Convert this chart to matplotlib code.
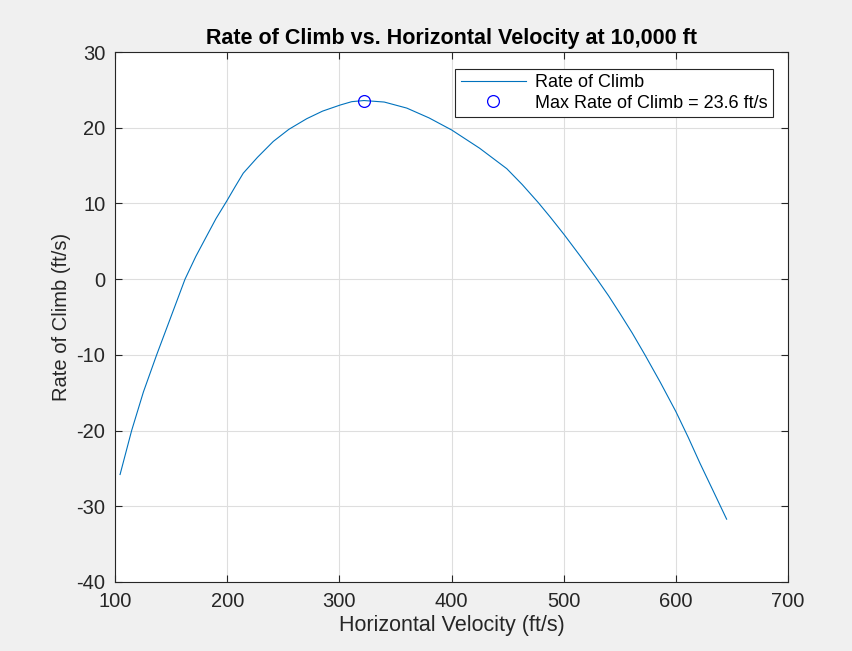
import numpy as np
import matplotlib.pyplot as plt

# ================= Data =================
velocity = [104.5, 114.8, 125.3, 137.1, 149.0, 162.4, 172.0, 181.7, 190.0,
            199.5, 207.0, 214.3, 227.0, 241.1, 255.0, 270.9, 285.0, 300.6,
            311.0, 321.9, 340.0, 360.1, 380.0, 400.2, 425.0, 449.2, 463.0,
            477.4, 488.0, 500.3, 515.0, 529.2, 540.0, 550.0, 561.0, 572.4,
            586.0, 600.0, 611.0, 621.4, 633.0, 645.2]
rate_of_climb = [-25.8, -20.0, -14.9, -10.0, -5.3, 0.0, 3.0, 5.7, 8.0,
                 10.3, 12.2, 14.0, 16.1, 18.2, 19.8, 21.2, 22.2, 23.0,
                 23.45, 23.6, 23.4, 22.6, 21.3, 19.7, 17.3, 14.6, 12.5,
                 10.1, 8.2, 5.9, 3.0, 0.1, -2.2, -4.5, -7.1, -10.0,
                 -13.6, -17.5, -20.9, -24.3, -27.9, -31.7]
max_v = 321.9
max_roc = 23.6

x_ticks = [100, 200, 300, 400, 500, 600, 700]
y_ticks = [-40, -30, -20, -10, 0, 10, 20, 30]

# ================= Plot =================
plt.rcParams['font.family'] = ['Liberation Sans', 'DejaVu Sans']
plt.rcParams['axes.unicode_minus'] = False

fig = plt.figure(figsize=(8.52, 6.51), dpi=100, facecolor='#f0f0f0')
ax = fig.add_axes([0.135, 0.106, 0.790, 0.814])

ax.plot(velocity, rate_of_climb, color='#0072BD', linewidth=0.8, label='Rate of Climb')
ax.plot(max_v, max_roc, 'o', markerfacecolor='none', markeredgecolor='#0000ff',
        markersize=8.5, markeredgewidth=0.9, linestyle='none',
        label=f'Max Rate of Climb = {max_roc:.1f} ft/s')

ax.set_xlim(100, 700)
ax.set_ylim(-40, 30)
ax.set_xticks(x_ticks)
ax.set_yticks(y_ticks)

ax.grid(True, color='#dedede', linewidth=0.8)
ax.set_axisbelow(True)
for s in ax.spines.values():
    s.set_color('#262626')
    s.set_linewidth(0.8)
ax.tick_params(direction='in', length=5, width=0.8, colors='#262626',
               labelsize=14.5, top=True, right=True, pad=7)

ax.set_xlabel('Horizontal Velocity (ft/s)', fontsize=15.5, color='#262626', labelpad=3)
ax.set_ylabel('Rate of Climb (ft/s)', fontsize=14.5, color='#262626', labelpad=4)
ax.set_title('Rate of Climb vs. Horizontal Velocity at 10,000 ft',
             fontsize=15.5, fontweight='bold', pad=6)

leg = ax.legend(loc='upper right', bbox_to_anchor=(0.977, 0.969), fontsize=13,
                frameon=True, fancybox=False, edgecolor='#262626',
                framealpha=1, handlelength=3.6, handletextpad=0.5,
                borderpad=0.3, labelspacing=0.2, borderaxespad=0)
leg.get_frame().set_linewidth(0.8)

plt.savefig('out.png', dpi=100, facecolor=fig.get_facecolor())
plt.close()
